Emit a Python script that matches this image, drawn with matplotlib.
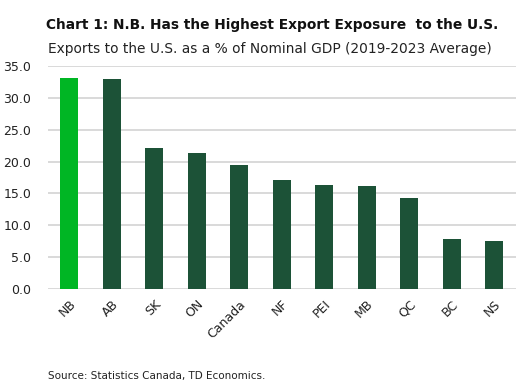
import matplotlib.pyplot as plt

plt.rcParams['font.family'] = ['DejaVu Sans']

regions = ['NB', 'AB', 'SK', 'ON', 'Canada', 'NF', 'PEI', 'MB', 'QC', 'BC', 'NS']
export_share = [33.1, 32.9, 22.1, 21.3, 19.5, 17.1, 16.3, 16.2, 14.3, 7.9, 7.6]

highlight = '#00b624'
dark = '#1c5237'
colors = [highlight] + [dark] * (len(regions) - 1)

fig = plt.figure(figsize=(5.17, 3.86), dpi=100)
ax = fig.add_axes([48 / 517, 1 - 289.3 / 386, (515.5 - 48) / 517, (289.3 - 65.7) / 386])

ax.bar(range(len(regions)), export_share, width=0.43, color=colors, zorder=3)

ax.set_xlim(-0.5, len(regions) - 0.5)
ax.set_ylim(0, 35)
ax.set_yticks([0, 5, 10, 15, 20, 25, 30, 35])
ax.set_yticklabels([f'{v:.1f}' for v in range(0, 36, 5)], fontsize=9, color='#222222')
ax.set_xticks(range(len(regions)))
ax.set_xticklabels(regions, rotation=45, ha='right', rotation_mode='anchor',
                   fontsize=9, color='#222222')
ax.tick_params(axis='both', length=0)
ax.tick_params(axis='x', pad=6)
ax.tick_params(axis='y', pad=12)
ax.grid(axis='y', color='#d9d9d9', linewidth=1.4, zorder=0)
for s in ax.spines.values():
    s.set_visible(False)

fig.text(272 / 517, 1 - 25 / 386, 'Chart 1: N.B. Has the Highest Export Exposure  to the U.S.',
         ha='center', va='center', fontsize=9.9, fontweight='bold', color='#111111')
fig.text(48 / 517, 1 - 49 / 386, 'Exports to the U.S. as a % of Nominal GDP (2019-2023 Average)',
         ha='left', va='center', fontsize=9.9, color='#222222')
fig.text(48 / 517, 1 - 376 / 386, 'Source: Statistics Canada, TD Economics.',
         ha='left', va='center', fontsize=7.5, color='#222222')

fig.savefig('out.png', dpi=100)
